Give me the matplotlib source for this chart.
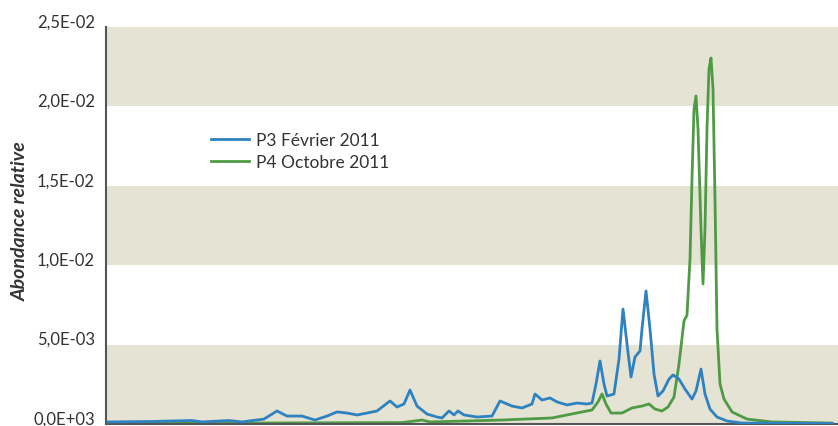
import matplotlib
matplotlib.use("Agg")
import matplotlib.pyplot as plt
import matplotlib.transforms as mtransforms

# position le long du chromatogramme (unités arbitraires)
p3_x = [0, 44, 84, 94, 121, 134, 156, 169, 179, 194, 207, 219, 229, 239, 249, 259,
        269, 282, 289, 296, 302, 309, 319, 329, 334, 341, 346, 350, 356, 369, 384,
        392, 404, 414, 424, 427, 434, 442, 449, 459, 469, 479, 484, 488, 492, 496,
        499, 506, 511, 515, 519, 523, 527, 532, 534, 538, 542, 546, 550, 555, 561,
        565, 571, 577, 584, 588, 593, 597, 602, 609, 619, 634, 724]
# abondance relative (x 1e-3)
p3_y = [0.13, 0.16, 0.22, 0.13, 0.22, 0.13, 0.31, 0.82, 0.50, 0.50, 0.25, 0.50,
        0.76, 0.69, 0.57, 0.69, 0.82, 1.45, 1.07, 1.26, 2.14, 1.13, 0.63, 0.44,
        0.38, 0.82, 0.57, 0.82, 0.57, 0.44, 0.50, 1.45, 1.13, 1.01, 1.26, 1.89,
        1.51, 1.64, 1.39, 1.20, 1.32, 1.26, 1.32, 2.52, 3.97, 2.52, 1.76, 1.89,
        4.09, 7.24, 5.04, 2.96, 4.22, 4.60, 5.98, 8.38, 5.98, 3.15, 1.76, 2.08,
        2.83, 3.09, 2.83, 2.20, 1.57, 2.08, 3.46, 1.89, 0.94, 0.44, 0.19, 0.06, 0.03]

p4_x = [0, 144, 294, 314, 322, 394, 444, 474, 484, 490, 494, 498, 503, 514, 524,
        534, 541, 547, 554, 560, 566, 571, 576, 579, 582, 584, 586, 588, 590, 593,
        595, 597, 599, 601, 603, 605, 607, 609, 612, 616, 624, 639, 664, 724]
p4_y = [0.06, 0.06, 0.09, 0.25, 0.13, 0.25, 0.38, 0.76, 0.88, 1.39, 1.89, 1.26,
        0.69, 0.69, 1.01, 1.13, 1.26, 0.94, 0.82, 1.07, 1.70, 3.78, 6.49, 6.86,
        10.39, 15.43, 19.84, 20.65, 18.58, 12.28, 8.82, 12.28, 18.58, 22.36, 23.05,
        21.10, 14.17, 5.98, 2.52, 1.57, 0.76, 0.31, 0.13, 0.06]

series_labels = ["P3 Février 2011", "P4 Octobre 2011"]
y_ticks = [0.0, 5.0e-3, 1.0e-2, 1.5e-2, 2.0e-2, 2.5e-2]
y_tick_labels = ["0,0E+03", "5,0E-03", "1,0E-02", "1,5E-02", "2,0E-02", "2,5E-02"]
bands = [(0.0, 5.0e-3), (1.0e-2, 1.5e-2), (2.0e-2, 2.5e-2)]

plt.rcParams["font.family"] = ["Lato", "DejaVu Sans"]

fig = plt.figure(figsize=(8.38, 4.27), dpi=100)
ax = fig.add_axes([106 / 838, 2 / 427, 732 / 838, 397 / 427])

for lo, hi in bands:
    ax.axhspan(lo, hi, color="#e5e3d3", lw=0, zorder=0)

ax.plot(p3_x, [v * 1e-3 for v in p3_y], color="#2f82c0", lw=2.0,
        solid_joinstyle="round", label=series_labels[0], zorder=3)
ax.plot(p4_x, [v * 1e-3 for v in p4_y], color="#4f9a45", lw=2.0,
        solid_joinstyle="round", label=series_labels[1], zorder=2)

ax.set_xlim(-2, 730)
ax.set_ylim(0, 2.5e-2)
ax.set_xticks([])
ax.set_yticks(y_ticks)
ax.set_yticklabels(y_tick_labels, fontsize=12, color="#333333")
ax.tick_params(axis="y", length=0, pad=8)
# libellés légèrement au-dessus des graduations, comme dans l'original
off = mtransforms.ScaledTranslation(0, 7 / 100, fig.dpi_scale_trans)
for lab in ax.get_yticklabels():
    lab.set_transform(lab.get_transform() + off)

for side in ("top", "right"):
    ax.spines[side].set_visible(False)
for side in ("left", "bottom"):
    ax.spines[side].set_color("#555555")
    ax.spines[side].set_linewidth(1.5)

fig.text(20 / 838, 1 - 221 / 427, "Abondance relative", rotation=90,
         ha="center", va="center", fontsize=14, fontweight="bold",
         fontstyle="italic", color="#333333")

ax.legend(loc="upper left", bbox_to_anchor=(195 / 838, 1 - 117 / 427),
          bbox_transform=fig.transFigure, frameon=False, fontsize=12.5,
          handlelength=2.2, handletextpad=0.4, labelspacing=0.35,
          labelcolor="#333333")

fig.savefig("out.png", dpi=100)
